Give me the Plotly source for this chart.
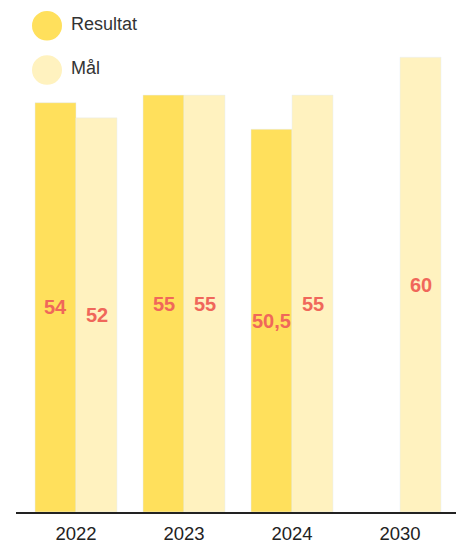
import plotly.graph_objects as go

years = ["2022", "2023", "2024", "2030"]
resultat = [54, 55, 50.5, None]
resultat_labels = ["54", "55", "50,5", ""]
maal = [52, 55, 55, 60]
maal_labels = ["52", "55", "55", "60"]
series_names = ["Resultat", "Mål"]

C_RES = "#FFE05C"
C_MAL = "#FFF2BF"
C_TXT = "#F0675A"
FONT = "Liberation Sans, Arial, sans-serif"

# page body has an 8px margin; figure coordinates below are page minus 8
OFF = 8
W, H = 464 - OFF, 544 - OFF
L, R, T, B = 16 - OFF, 0, 0, 24
pw, ph = W - L - R, H - T - B
px_per_cat = 108.0
first_center = 76.0 - OFF
x0 = -(first_center - L) / px_per_cat
x1 = x0 + pw / px_per_cat
px_per_unit = 7.7
ymax = ph / px_per_unit
bar_px = 41

fig = go.Figure()
fig.add_trace(go.Bar(
    x=years, y=resultat, name=series_names[0], marker_color=C_RES,
    showlegend=False, hoverinfo="skip",
))
fig.add_trace(go.Bar(
    x=years, y=maal, name=series_names[1], marker_color=C_MAL,
    showlegend=False, hoverinfo="skip",
))

def px2paper_x(px):
    return (px - OFF - L) / pw

def px2paper_y(py):
    return (H - B - (py - OFF)) / ph

shapes = []
annotations = []
for i, (name, col) in enumerate(zip(series_names, [C_RES, C_MAL])):
    cy = 26 + 45 * i
    shapes.append(dict(type="circle", xref="paper", yref="paper",
                       x0=px2paper_x(32), x1=px2paper_x(62),
                       y0=px2paper_y(cy + 15), y1=px2paper_y(cy - 15),
                       fillcolor=col, line=dict(width=0), layer="above"))
    annotations.append(dict(text=name, xref="paper", yref="paper",
                            x=px2paper_x(69), y=px2paper_y(cy - 2),
                            xanchor="left", yanchor="middle", showarrow=False,
                            font=dict(family=FONT, size=18, color="#333333")))

for vals, labels, shift in [(resultat, resultat_labels, -bar_px / 2),
                            (maal, maal_labels, bar_px / 2)]:
    for idx, (v, lab) in enumerate(zip(vals, labels)):
        if v is None or not lab:
            continue
        annotations.append(dict(text="<b>%s</b>" % lab, x=idx, y=v / 2, xref="x", yref="y",
                                xshift=shift, showarrow=False, xanchor="center",
                                yanchor="middle",
                                font=dict(family=FONT, size=20, color=C_TXT)))

fig.update_layout(
    width=W, height=H,
    margin=dict(l=L, r=R, t=T, b=B, pad=0),
    barmode="group", bargap=26 / 108, bargroupgap=0,
    plot_bgcolor="white", paper_bgcolor="white",
    font=dict(family=FONT, size=18, color="#222222"),
    xaxis=dict(type="category", range=[x0, x1], showline=True, linecolor="#222222",
               linewidth=2, ticks="outside", ticklen=4, tickcolor="rgba(0,0,0,0)",
               showgrid=False, zeroline=False,
               tickfont=dict(family=FONT, size=18.5, color="#222222"), fixedrange=True),
    yaxis=dict(range=[0, ymax], visible=False, showgrid=False, zeroline=False, fixedrange=True),
    shapes=shapes, annotations=annotations,
)

fig.write_html("out.html")
